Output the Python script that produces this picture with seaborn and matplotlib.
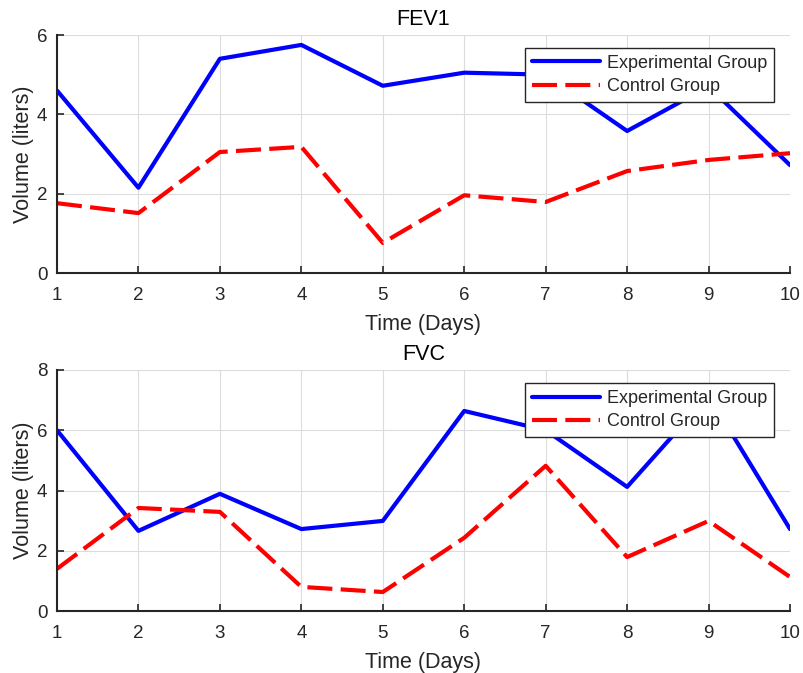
import matplotlib
matplotlib.use("Agg")
import matplotlib.pyplot as plt
import seaborn as sns
import pandas as pd

days = [1, 2, 3, 4, 5, 6, 7, 8, 9, 10]
fev1_experimental = [4.6, 2.15, 5.4, 5.75, 4.72, 5.05, 5.0, 3.58, 4.7, 2.72]
fev1_control = [1.76, 1.51, 3.05, 3.18, 0.76, 1.96, 1.79, 2.57, 2.85, 3.02]
fvc_experimental = [6.0, 2.66, 3.89, 2.72, 2.99, 6.64, 6.0, 4.12, 7.15, 2.72]
fvc_control = [1.4, 3.42, 3.29, 0.8, 0.63, 2.43, 4.82, 1.79, 2.99, 1.13]
group_names = ["Experimental Group", "Control Group"]
titles = ["FEV1", "FVC"]
y_limits = [6, 8]

sns.set_theme(style="white")
plt.rcParams["font.family"] = ["Liberation Sans", "DejaVu Sans"]

fig = plt.figure(figsize=(8.04, 6.73), dpi=100)
ax1 = fig.add_axes([57/804, 1-273/673, 733/804, 238/673])
ax2 = fig.add_axes([57/804, 1-611/673, 733/804, 241/673])

datasets = [(fev1_experimental, fev1_control), (fvc_experimental, fvc_control)]
axes = [ax1, ax2]
txt = "#262626"
for ax, (exp, ctl), title, ymax in zip(axes, datasets, titles, y_limits):
    df = pd.DataFrame({
        "Day": days * 2,
        "Volume": exp + ctl,
        "Group": [group_names[0]] * len(days) + [group_names[1]] * len(days),
    })
    sns.lineplot(data=df, x="Day", y="Volume", hue="Group", style="Group",
                 palette={group_names[0]: "#0000FF", group_names[1]: "#FF0000"},
                 dashes={group_names[0]: "", group_names[1]: (6.0, 2.0)},
                 linewidth=3.0, ax=ax, legend=True)
    ax.set_xlim(1, 10)
    ax.set_ylim(0, ymax)
    ax.set_xticks(days)
    ax.set_yticks(list(range(0, ymax + 1, 2)))
    ax.grid(True, color="#DCDCDC", linewidth=0.8)
    ax.set_axisbelow(True)
    for s in ["top", "right"]:
        ax.spines[s].set_visible(False)
    for s in ["left", "bottom"]:
        ax.spines[s].set_color(txt)
        ax.spines[s].set_linewidth(1.5)
    ax.tick_params(direction="in", length=5, width=1.2, colors=txt,
                   labelsize=13.5, left=True, bottom=True)
    ax.tick_params(axis="x", pad=10)
    ax.tick_params(axis="y", pad=7)
    ax.set_xlabel("Time (Days)", fontsize=15.5, color=txt, labelpad=7)
    ax.set_ylabel("Volume (liters)", fontsize=15.5, color=txt, labelpad=2)
    ax.set_title(title, fontsize=15.5, color="black", pad=7)
    leg = ax.legend(loc="upper right", bbox_to_anchor=(0.978, 0.946),
                    fontsize=13, frameon=True, fancybox=False, framealpha=1,
                    handlelength=3.8, handletextpad=0.35, labelspacing=0.36,
                    borderpad=0.38, borderaxespad=0)
    leg.get_frame().set_edgecolor("#262626")
    leg.get_frame().set_linewidth(1.0)
    for line in leg.get_lines():
        line.set_linewidth(3.0)

fig.savefig("out.png", dpi=100)
